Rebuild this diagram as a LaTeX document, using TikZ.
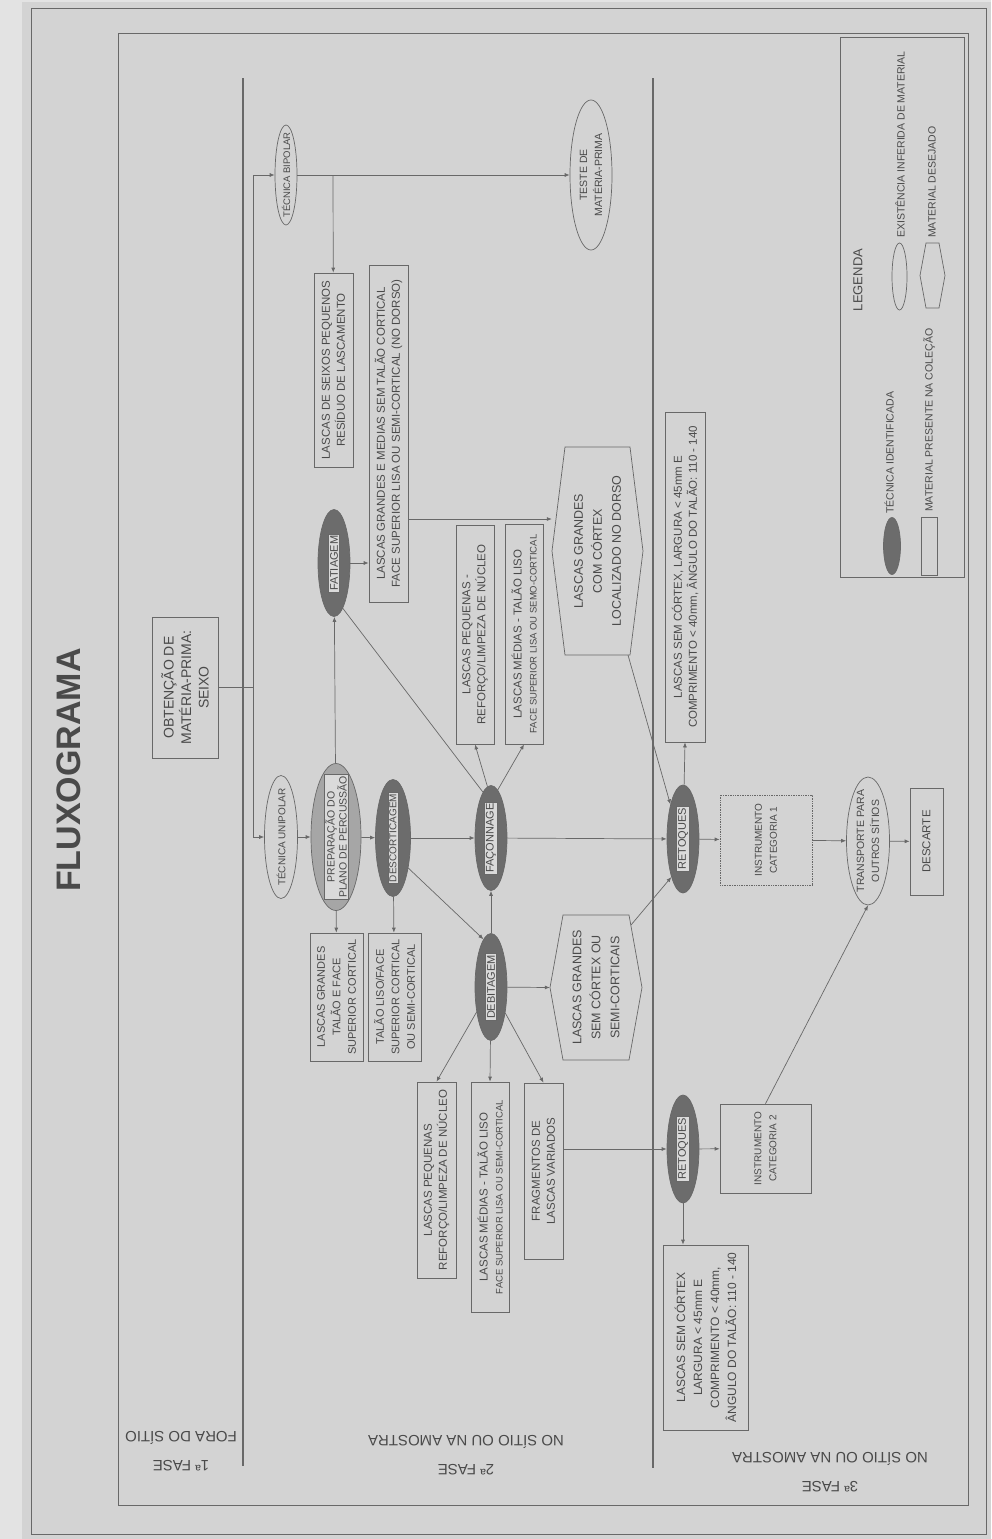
\documentclass[tikz,border=0pt]{standalone}
\usepackage{fontspec}
\setmainfont{Liberation Sans}
\usetikzlibrary{shapes.geometric,arrows.meta}

\definecolor{fundo}{HTML}{D3D3D3}
\definecolor{margem}{HTML}{E3E3E3}
\definecolor{traco}{HTML}{686868}
\definecolor{tinta}{HTML}{4A4A4A}
\definecolor{escuro}{HTML}{6C6C6C}
\definecolor{medio}{HTML}{A6A6A6}
\definecolor{claro}{HTML}{DADADA}

\begin{document}
\begin{tikzpicture}[x=1pt,y=-1pt,>={Latex[length=5pt,width=4pt]}]
\tikzstyle{every node}+=[inner sep=0pt,text=tinta,align=center]
\tikzstyle{caixa}=[draw=traco,line width=0.7pt,rectangle,rotate=90,font=\fontsize{11.5}{15}\selectfont]
\tikzstyle{texto}=[rotate=90,font=\fontsize{11.5}{15}\selectfont]
\tikzstyle{tecnica}=[draw=traco,fill=escuro,ellipse,line width=0.7pt,rotate=90]
\tikzstyle{inferida}=[draw=traco,ellipse,line width=0.7pt,rotate=90]
\tikzstyle{rotulo}=[draw=traco,fill=claro,line width=0.5pt,inner sep=1.5pt,rotate=90,font=\fontsize{11}{13}\selectfont]
\tikzstyle{seta}=[->,draw=traco,line width=0.7pt]
\tikzstyle{linha}=[draw=traco,line width=0.7pt]
\tikzstyle{fase}=[draw=traco,line width=1.6pt]
\tikzstyle{legenda}=[rotate=90,anchor=west,font=\fontsize{10.5}{13}\selectfont]

\useasboundingbox (0,0) rectangle (991,1539);
\fill[margem] (0,0) rectangle (991,1539);
\fill[fundo] (22,2) rectangle (991,1539);
\draw[traco,line width=1pt] (31,8) rectangle (986,1534);
\draw[linha] (118,33) rectangle (968,1505);
\draw[linha] (840,37) rectangle (964,577);

\node[rotate=90,font=\fontsize{34}{38}\selectfont\bfseries] (titulo) at (69,770) {FLUXOGRAMA};

\draw[fase] (243,78) -- (243,1466);
\draw[fase] (653,78) -- (653,1468);
\node[rotate=180,font=\fontsize{15}{29}\selectfont] (fase1) at (181,1451) {1ª FASE\\FORA DO SÍTIO};
\node[rotate=180,font=\fontsize{15}{29}\selectfont] (fase2) at (466,1455) {2ª FASE\\NO SÍTIO OU NA AMOSTRA};
\node[rotate=180,font=\fontsize{15}{29}\selectfont] (fase3) at (830,1472) {3ª FASE\\NO SÍTIO OU NA AMOSTRA};

\node[caixa,minimum width=141pt,minimum height=66pt,font=\fontsize{14}{17.5}\selectfont] (obtencao) at (185,687.5) {OBTENÇÃO DE\\MATÉRIA-PRIMA:\\SEIXO};
\coordinate (bustop) at (253,175);
\coordinate (busbot) at (253,837);
\coordinate (ramo) at (333,175);

\node[inferida,minimum width=100pt,minimum height=22pt] (bipolar) at (286,175) {};
\node[texto,font=\fontsize{9.5}{11}\selectfont] (bipolart) at (bipolar) {TÉCNICA BIPOLAR};
\node[inferida,minimum width=150pt,minimum height=42pt] (teste) at (591,175) {};
\node[texto,font=\fontsize{10.5}{15}\selectfont] (testet) at (teste) {TESTE DE\\MATÉRIA-PRIMA};
\node[inferida,minimum width=123pt,minimum height=33pt] (unipolar) at (281,837) {};
\node[texto,font=\fontsize{10}{12}\selectfont] (unipolart) at (unipolar) {TÉCNICA UNIPOLAR};
\node[inferida,minimum width=128pt,minimum height=43pt] (transporte) at (868,841) {};
\node[texto,font=\fontsize{10.5}{15}\selectfont] (transportet) at (transporte) {TRANSPORTE PARA\\OUTROS SÍTIOS};

\node[tecnica,fill=medio,minimum width=147pt,minimum height=50pt] (prep) at (336,837) {};
\node[rotulo,font=\fontsize{10.5}{12}\selectfont] (prept) at (prep) {PREPARAÇÃO DO\\PLANO DE PERCUSSÃO};
\node[tecnica,minimum width=117pt,minimum height=35pt] (descort) at (393,838) {};
\node[rotulo,font=\fontsize{10}{12}\selectfont] (descortt) at (descort) {DESCORTICAGEM};
\node[tecnica,minimum width=107pt,minimum height=32pt] (fatiagem) at (334,563) {};
\node[rotulo] (fatiagemt) at (fatiagem) {FATIAGEM};
\node[tecnica,minimum width=105pt,minimum height=32pt] (faconnage) at (491,838) {};
\node[rotulo] (faconnaget) at (faconnage) {FAÇONNAGE};
\node[tecnica,minimum width=107pt,minimum height=32pt] (debitagem) at (491,987) {};
\node[rotulo] (debitagemt) at (debitagem) {DEBITAGEM};
\node[tecnica,minimum width=108pt,minimum height=32pt] (retoques1) at (683,839) {};
\node[rotulo] (retoques1t) at (retoques1) {RETOQUES};
\node[tecnica,minimum width=108pt,minimum height=32pt] (retoques2) at (683,1149) {};
\node[rotulo] (retoques2t) at (retoques2) {RETOQUES};

\node[caixa,minimum width=194pt,minimum height=39pt] (seixos) at (333.5,370) {LASCAS DE SEIXOS PEQUENOS\\RESÍDUO DE LASCAMENTO};
\node[caixa,minimum width=337pt,minimum height=39pt] (grandesmedias) at (388.5,433.5) {LASCAS GRANDES E MEDIAS SEM TALÃO CORTICAL\\FACE SUPERIOR LISA OU SEMI-CORTICAL (NO DORSO)};
\coordinate (gmsaida) at (408,519);
\node[caixa,minimum width=219pt,minimum height=38pt] (pequenas1) at (475,634.5) {LASCAS PEQUENAS -\\REFORÇO/LIMPEZA DE NÚCLEO};
\node[caixa,minimum width=220pt,minimum height=38pt] (medias1) at (524,634) {LASCAS MÉDIAS - TALÃO LISO\\{\fontsize{9.5}{12}\selectfont FACE SUPERIOR LISA OU SEMO-CORTICAL}};
\node[caixa,minimum width=330pt,minimum height=40pt] (semcortex1) at (685,577) {LASCAS SEM CÓRTEX, LARGURA < 45mm E\\COMPRIMENTO < 40mm, ÂNGULO DO TALÃO: 110 - 140};
\node[caixa,minimum width=128pt,minimum height=53pt,font=\fontsize{11}{15.5}\selectfont] (grandestalao) at (336.5,997) {LASCAS GRANDES\\TALÃO E FACE\\SUPERIOR CORTICAL};
\node[caixa,minimum width=128pt,minimum height=53pt,font=\fontsize{11}{15.5}\selectfont] (talaoliso) at (394.5,997) {TALÃO LISO/FACE\\SUPERIOR CORTICAL\\OU SEMI-CORTICAL};
\node[caixa,minimum width=196pt,minimum height=39pt] (pequenas2) at (436.5,1180) {LASCAS PEQUENAS\\REFORÇO/LIMPEZA DE NÚCLEO};
\node[caixa,minimum width=230pt,minimum height=38pt] (medias2) at (490,1197) {LASCAS MÉDIAS - TALÃO LISO\\{\fontsize{9.5}{12}\selectfont FACE SUPERIOR LISA OU SEMI-CORTICAL}};
\node[caixa,minimum width=176pt,minimum height=39pt] (fragmentos) at (543.5,1171) {FRAGMENTOS DE\\LASCAS VARIADOS};
\node[caixa,densely dotted,minimum width=90pt,minimum height=92pt,font=\fontsize{10}{15}\selectfont] (instr1) at (766,840) {INSTRUMENTO\\CATEGORIA 1};
\node[caixa,minimum width=89pt,minimum height=91pt,font=\fontsize{10}{15}\selectfont] (instr2) at (765.5,1148.5) {INSTRUMENTO\\CATEGORIA 2};
\node[caixa,minimum width=107pt,minimum height=33pt] (descarte) at (926.5,841.5) {DESCARTE};
\node[caixa,minimum width=185pt,minimum height=85pt,font=\fontsize{12}{17}\selectfont] (semcortex2) at (705.5,1337.5) {LASCAS SEM CÓRTEX\\LARGURA < 45mm E\\COMPRIMENTO < 40mm,\\ÂNGULO DO TALÃO: 110 - 140};

\node[texto,minimum width=208pt,minimum height=91pt,font=\fontsize{12.5}{19}\selectfont] (comcortex) at (597.5,551) {LASCAS GRANDES\\COM CÓRTEX\\LOCALIZADO NO DORSO};
\draw[linha] (552,551) -- (565,447) -- (630,447) -- (643,551) -- (630,655) -- (565,655) -- cycle;
\coordinate (comhexse) at (628,655);
\node[texto,minimum width=145pt,minimum height=92pt,font=\fontsize{12.5}{19}\selectfont] (semhex) at (596,987.5) {LASCAS GRANDES\\SEM CÓRTEX OU\\SEMI-CORTICAIS};
\draw[linha] (550,987.5) -- (563,915) -- (629,915) -- (642,987.5) -- (629,1060) -- (563,1060) -- cycle;
\coordinate (semhexne) at (631,925);

\draw[linha] (obtencao.south) -- (obtencao.south -| bustop);
\draw[linha] (bustop) -- (busbot);
\draw[seta] (bustop) -- (bipolar);
\draw[seta] (busbot) -- (unipolar);
\draw[seta] (bipolar) -- (teste);
\draw[seta] (ramo) -- (seixos);
\draw[seta] (unipolar) -- (prep);
\draw[seta] (prep) -- (descort);
\draw[seta] (descort) -- (faconnage);
\draw[seta] (faconnage) -- (retoques1);
\draw[seta] (retoques1) -- (instr1);
\draw[seta] (instr1) -- (transporte);
\draw[seta] (transporte) -- (descarte);
\draw[seta] (prep) -- (fatiagem);
\draw[seta] (fatiagem) -- (fatiagem -| grandesmedias.north);
\draw[seta] (gmsaida) -- (gmsaida -| comcortex.north);
\draw[linha] (fatiagem.191) -- (faconnage.10);
\draw[seta] (faconnage.4) -- (pequenas1.west);
\draw[seta] (faconnage.-8) -- (medias1.west);
\draw[seta] (prep) -- (grandestalao);
\draw[seta] (descort) -- (talaoliso);
\draw[seta] (descort.207) -- (debitagem.9);
\draw[seta] (debitagem) -- (faconnage);
\draw[seta] (debitagem) -- (semhex.north);
\draw[seta] (debitagem) -- (pequenas2.east);
\draw[seta] (debitagem) -- (medias2.east);
\draw[seta] (debitagem) -- (fragmentos.east);
\draw[seta] (semhexne) -- (retoques1.163);
\draw[seta] (comhexse) -- (retoques1.20);
\draw[seta] (retoques1) -- (semcortex1.west);
\draw[seta] (fragmentos.south |- retoques2) -- (retoques2);
\draw[seta] (retoques2) -- (instr2);
\draw[seta] (retoques2) -- (retoques2 |- semcortex2.east);
\draw[seta] (instr2.east) -- (transporte.west);

\node[rotate=90,font=\fontsize{13}{15}\selectfont] (legendat) at (858,280) {LEGENDA};
\node[tecnica,minimum width=57pt,minimum height=17pt] (legtec) at (892,546) {};
\node[legenda] (legtect) at (889,514) {TÉCNICA IDENTIFICADA};
\node[caixa,minimum width=58pt,minimum height=16pt] (legcaixa) at (929,546) {};
\node[legenda] (legcaixat) at (929,512) {MATERIAL PRESENTE NA COLEÇÃO};
\node[inferida,minimum width=67pt,minimum height=15pt] (leginf) at (899.5,276.5) {};
\node[legenda] (leginft) at (900,238) {EXISTÊNCIA INFERIDA DE MATERIAL};
\draw[linha] (920,275.5) -- (926,243) -- (939,243) -- (945,275.5) -- (939,308) -- (926,308) -- cycle;
\node[legenda] (legdest) at (932,238) {MATERIAL DESEJADO};
\end{tikzpicture}
\end{document}
